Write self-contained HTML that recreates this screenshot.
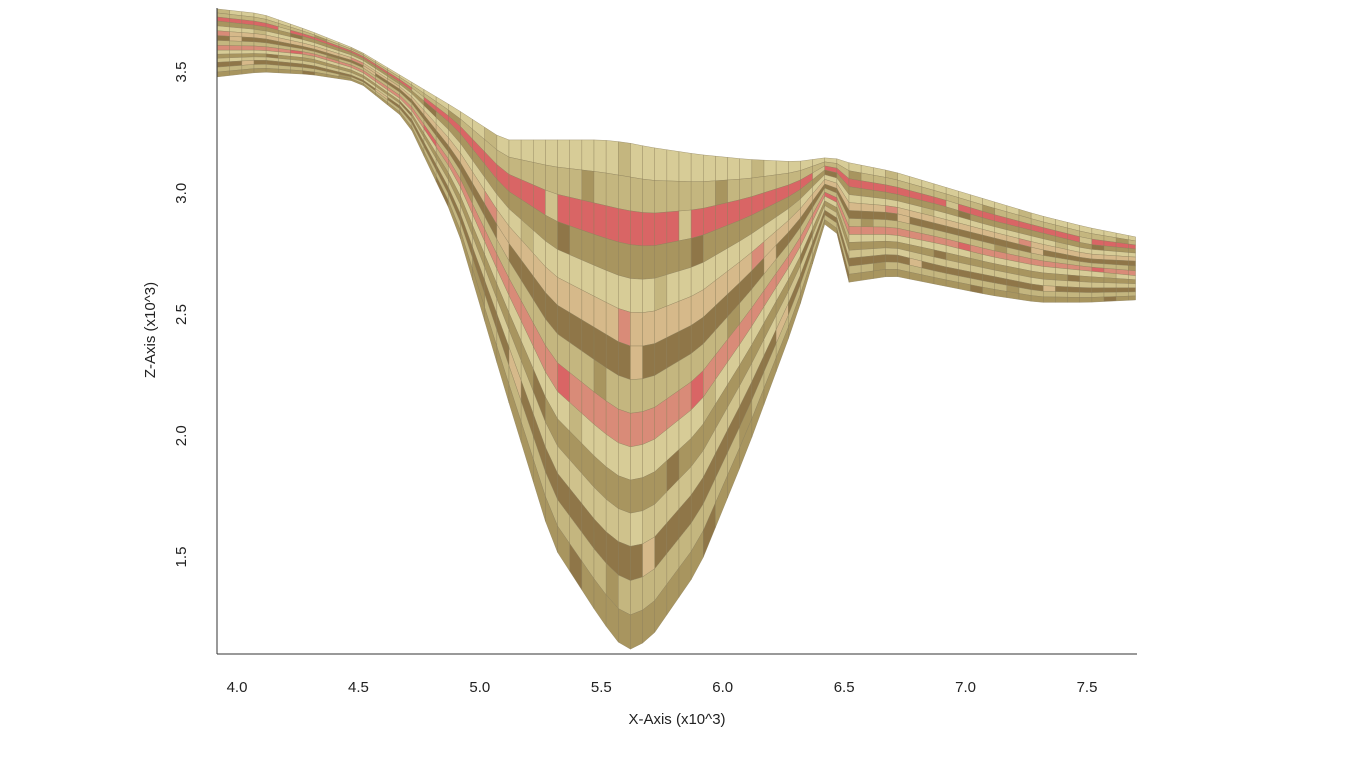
<!DOCTYPE html>
<html><head><meta charset="utf-8"><style>
body{margin:0;background:#fff}
svg text{font-family:"Liberation Sans",sans-serif;fill:#222}
</style></head><body>
<svg id="chart" width="1356" height="768" viewBox="0 0 1356 768" xmlns="http://www.w3.org/2000/svg">
<g id="surface"></g>
<g id="axes"></g>
</svg>
<script>
const xKnots=[3.92,4.1,4.3,4.5,4.7,4.9,5.1,5.3,5.5,5.6,5.7,5.9,6.1,6.3,6.45,6.5,6.7,6.9,7.1,7.3,7.5,7.7];
const row0=[3.76,3.74,3.67,3.59,3.47,3.35,3.22,3.22,3.22,3.21,3.19,3.16,3.14,3.13,3.15,3.13,3.09,3.03,2.97,2.91,2.86,2.82];
const row1=[3.71,3.69,3.64,3.57,3.44,3.27,3.02,2.89,2.82,2.79,2.78,2.82,2.90,3.00,3.12,3.03,3.00,2.95,2.89,2.84,2.79,2.77];
const row2=[3.65,3.64,3.60,3.54,3.41,3.16,2.82,2.55,2.43,2.37,2.37,2.47,2.66,2.87,3.08,2.93,2.92,2.87,2.82,2.77,2.73,2.72];
const row3=[3.59,3.59,3.57,3.51,3.37,3.07,2.62,2.20,2.02,1.95,1.97,2.13,2.42,2.74,3.05,2.83,2.83,2.79,2.74,2.70,2.68,2.66];
const row4=[3.54,3.55,3.53,3.48,3.34,2.97,2.42,1.87,1.62,1.54,1.56,1.79,2.18,2.61,3.01,2.73,2.75,2.70,2.66,2.62,2.61,2.61];
const row5=[3.48,3.50,3.49,3.46,3.30,2.88,2.20,1.55,1.24,1.11,1.16,1.45,1.94,2.48,2.97,2.63,2.66,2.62,2.58,2.55,2.55,2.56];
const xTicks=[4.0,4.5,5.0,5.5,6.0,6.5,7.0,7.5];
const zTicks=[1.5,2.0,2.5,3.0,3.5];
const xTickLabels=["4.0","4.5","5.0","5.5","6.0","6.5","7.0","7.5"];
const zTickLabels=["1.5","2.0","2.5","3.0","3.5"];

const NS="http://www.w3.org/2000/svg";
const X0=217,X1=1137,Y0=654;
const sx=v=>237+(v-4)*242.86;
const sz=v=>72+(3.5-v)*242.5;
function interp(row,x){
  for(let i=0;i<xKnots.length-1;i++){
    if(x<=xKnots[i+1]+1e-9){const t=(x-xKnots[i])/(xKnots[i+1]-xKnots[i]);return row[i]+(row[i+1]-row[i])*t;}
  }
  return row[row.length-1];
}
const rows=[row0,row1,row2,row3,row4,row5];
const pal=['#d7cc97','#c4b67f','#a8955f','#8f7648','#d6b98a','#d98b78','#d96565','#cfc28c'];
const subColors=[0,1,6,2,0,4,3,1,5,0,2,7,3,1,2];
const surf=document.getElementById('surface');
const cols=[];for(let x=xKnots[0];x<xKnots[xKnots.length-1]+1e-9;x+=0.05)cols.push(Math.min(x,7.7));
if(cols[cols.length-1]<7.7)cols.push(7.7);
const SUB=3;
for(let b=0;b<rows.length-1;b++){
  for(let s=0;s<SUB;s++){
    const f0=s/SUB,f1=(s+1)/SUB;
    const ci=subColors[(b*SUB+s)%subColors.length];
    for(let c=0;c<cols.length-1;c++){
      const xa=cols[c],xb=cols[c+1];
      const za0=interp(rows[b],xa)+(interp(rows[b+1],xa)-interp(rows[b],xa))*f0;
      const za1=interp(rows[b],xa)+(interp(rows[b+1],xa)-interp(rows[b],xa))*f1;
      const zb0=interp(rows[b],xb)+(interp(rows[b+1],xb)-interp(rows[b],xb))*f0;
      const zb1=interp(rows[b],xb)+(interp(rows[b+1],xb)-interp(rows[b],xb))*f1;
      let col=pal[ci];
      if(((c+b*5+s*3)%11)==0)col=pal[(ci+1)%pal.length];
      const p=document.createElementNS(NS,'polygon');
      
      
      p.setAttribute('points',`${sx(xa)},${sz(za0)} ${sx(xb)},${sz(zb0)} ${sx(xb)},${sz(zb1)} ${sx(xa)},${sz(za1)}`);
      p.setAttribute('fill',col);
      p.setAttribute('stroke','#8a7d58');
      p.setAttribute('stroke-width','0.5');
      p.setAttribute('stroke-opacity','0.7');
      surf.appendChild(p);
    }
  }
}
const ax=document.getElementById('axes');
function line(x1,y1,x2,y2,name){const l=document.createElementNS(NS,'line');


l.setAttribute('x1',x1);l.setAttribute('y1',y1);l.setAttribute('x2',x2);l.setAttribute('y2',y2);l.setAttribute('stroke','#333');l.setAttribute('stroke-width','1');ax.appendChild(l);}
function text(x,y,s,name,rot,size){const t=document.createElementNS(NS,'text');


t.setAttribute('x',x);t.setAttribute('y',y);t.setAttribute('text-anchor','middle');t.setAttribute('font-size',size||15);
if(rot)t.setAttribute('transform',`rotate(-90 ${x} ${y})`);t.textContent=s;ax.appendChild(t);}
line(X0,Y0,X1,Y0,'x-axis-line');
line(X0,8,X0,Y0,'z-axis-line');
xTicks.forEach((v,i)=>text(sx(v),692,xTickLabels[i],'x-tick-label'));
zTicks.forEach((v,i)=>text(186,sz(v),zTickLabels[i],'z-tick-label',true));
text(677,724,'X-Axis (x10^3)','x-axis-title');
text(155,330,'Z-Axis (x10^3)','z-axis-title',true);
</script>
</body></html>
